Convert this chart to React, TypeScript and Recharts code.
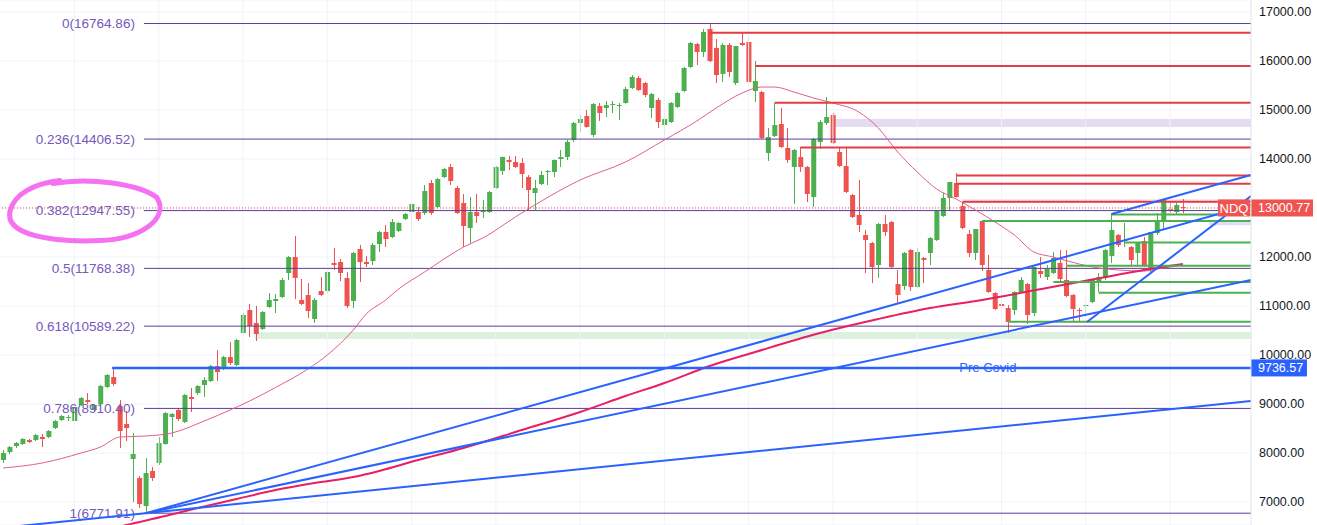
import {
  ComposedChart,
  Bar,
  Line,
  XAxis,
  YAxis,
  CartesianGrid,
  ReferenceLine,
  ReferenceArea,
  ReferenceDot,
} from "recharts";

const FONT = '"Liberation Sans", Arial, sans-serif';
const GREEN = "#4caf50";
const RED = "#ef5350";
const BLUE = "#2962ff";
const LINE_RED = "#e53b45";
const FIB_LINE = "#5c3d99";
const FIB_TEXT = "#7559bd";

// weekly NDQ candles, first one = week of 21 Oct 2019
const opens = [
  7857, 8020, 8143, 8184, 8265, 8265, 8327, 8327, 8510, 8674,
  8720, 8653, 8980, 9082, 8878, 9000, 9347, 9551, 8960, 8592,
  7878, 7490, 6918, 7633, 7796, 8184, 8735, 8878, 8633, 9143,
  9225, 9388, 9469, 9776, 9735, 9959, 9796, 10449, 10918, 10653,
  10531, 10980, 11102, 11184, 11674, 12000, 11123, 11225, 10735, 11306,
  11306, 11878, 11898, 11572, 11102, 12163, 11898, 11918, 12265, 12510,
  12408, 12531, 12776, 12918, 12918, 12898, 13510, 13020, 13633, 13837,
  13408, 13102, 12592, 12918, 12918, 12918, 13408, 13755, 13980, 13939,
  13918, 13633, 13306, 13490, 13735, 13735, 14000, 14041, 14388, 14735,
  14878, 14490, 15082, 15041, 15102, 15082, 15143, 15449, 15653, 15551,
  15041, 15204, 14694, 14755, 15061, 15388, 15878, 16347, 16184, 16653,
  16265, 15735, 16327, 15551, 16367, 16388, 15388, 15367, 14122, 14470,
  14714, 14225, 13837, 14041, 13837, 13225, 14347, 14735, 14898, 14143,
  13857, 13265, 12857, 12449, 12286, 11837, 12674, 12714, 11449, 11408,
  12143, 11388, 11980, 12082, 12347, 12837, 13204, 13510, 13041, 12469,
  12082, 12735, 11735, 11265, 11041, 10959, 10918, 11286, 11449, 10857,
  11714, 11592, 11674, 11878, 11531, 11225, 10918, 11000, 11082, 11510,
  11572, 12020, 12449, 12327, 12204, 12082, 12327, 11735, 12490, 12755,
  12980, 12918, 13020,
];
const highs = [
  8061, 8143, 8225, 8306, 8286, 8388, 8388, 8469, 8674, 8776,
  8776, 8960, 9143, 9225, 9000, 9388, 9612, 9736.57, 9082, 8857,
  8408, 7531, 7898, 7714, 8327, 8837, 8816, 8918, 9204, 9327,
  9388, 9551, 9796, 10102, 9980, 10265, 10327, 10857, 11041, 11000,
  10898, 11265, 11245, 11572, 12020, 12429, 11551, 11469, 11163, 11592,
  11714, 12184, 11959, 11694, 12102, 12245, 12020, 12286, 12531, 12653,
  12776, 12714, 12898, 13102, 13020, 13469, 13572, 13612, 13816, 13898,
  13449, 13286, 13225, 13286, 13163, 13347, 13857, 14050, 14061, 14061,
  14020, 13674, 13572, 13755, 13776, 13990, 14184, 14388, 14755, 14898,
  15000, 15143, 15143, 15184, 15184, 15143, 15469, 15714, 15694, 15571,
  15347, 15245, 15000, 15163, 15367, 15878, 16388, 16367, 16653, 16764.86,
  16449, 16367, 16367, 16306, 16592, 16490, 16000, 15388, 14633, 15143,
  15041, 14633, 14204, 14245, 13857, 14429, 14796, 15265, 14939, 14245,
  14245, 13286, 13572, 12551, 12306, 12694, 12857, 12735, 11735, 12102,
  12163, 12184, 12000, 12408, 12959, 13306, 13531, 13714, 13122, 12551,
  12571, 12755, 12041, 11286, 11531, 11020, 11306, 11592, 11469, 11796,
  12000, 11837, 12102, 12143, 12143, 11245, 10959, 11061, 11531, 11674,
  12163, 12898, 12469, 12694, 12225, 12306, 12408, 12510, 12898, 13184,
  13122, 13102, 13184,
];
const lows = [
  7796, 7980, 8102, 8163, 8204, 8245, 8122, 8306, 8490, 8653,
  8653, 8633, 8960, 9000, 8837, 8980, 9327, 9367, 8102, 8245,
  7000, 6878, 6771.91, 7429, 7755, 8170, 8327, 8653, 8612, 8837,
  9184, 9143, 9449, 9469, 9694, 9796, 9776, 10429, 10368, 10286,
  10510, 10959, 10857, 11163, 11531, 11143, 11020, 10755, 10653, 11204,
  11245, 11735, 11510, 10959, 10959, 11490, 11796, 11837, 12102, 12204,
  12388, 12510, 12755, 12531, 12735, 12857, 12857, 13000, 13612, 13469,
  12878, 12204, 12286, 12694, 12796, 12898, 13388, 13674, 13776, 13816,
  13408, 12959, 12959, 13469, 13469, 13633, 13837, 13980, 14347, 14551,
  14640, 14449, 14776, 14857, 14939, 14796, 15130, 15429, 15388, 15265,
  14837, 14633, 14429, 14735, 15041, 15367, 15857, 15918, 16082, 15980,
  15551, 15571, 15674, 15510, 16306, 15551, 15163, 14408, 13959, 14449,
  14225, 13918, 13082, 13735, 13122, 13020, 14204, 14694, 14306, 13837,
  13306, 12796, 12510, 11674, 11469, 11572, 12429, 11776, 11061, 11327,
  11306, 11367, 11469, 11837, 12327, 12816, 12939, 13210, 12570, 12000,
  11939, 11714, 11270, 10918, 10857, 10449, 10817, 11265, 10633, 10796,
  11572, 11531, 11653, 11469, 11184, 10674, 10674, 10776, 11061, 11286,
  11531, 11878, 12204, 12204, 11837, 11837, 11796, 11694, 12449, 12551,
  12898, 12857, 12898,
];
const closes = [
  8000, 8122, 8204, 8286, 8225, 8367, 8286, 8449, 8653, 8755,
  8735, 8939, 9123, 9041, 8980, 9367, 9592, 9408, 8449, 8510,
  7980, 6959, 7592, 7490, 8204, 8816, 8796, 8694, 9184, 9102,
  9367, 9490, 9776, 9653, 9959, 9837, 10306, 10817, 10592, 10429,
  10878, 11123, 11143, 11531, 12000, 11572, 11041, 10898, 11123, 11225,
  11694, 11837, 11674, 11000, 12082, 11898, 11857, 12245, 12510, 12367,
  12714, 12694, 12878, 13082, 12776, 13347, 12898, 13592, 13796, 13551,
  12898, 12633, 12918, 12837, 12939, 13327, 13837, 14041, 13939, 13837,
  13694, 13367, 13408, 13674, 13755, 13980, 14041, 14347, 14735, 14816,
  14653, 15122, 14939, 15102, 15122, 15102, 15429, 15674, 15408, 15306,
  15327, 14755, 14816, 15143, 15347, 15857, 16367, 16184, 16592, 16000,
  15714, 16327, 15776, 16306, 16327, 15571, 15592, 14429, 14449, 14694,
  14245, 13980, 14184, 13837, 13286, 14408, 14755, 14857, 14327, 13857,
  13327, 12816, 12653, 12347, 11796, 12674, 12510, 11796, 11225, 12082,
  11388, 12102, 11939, 12388, 12939, 13204, 13531, 13225, 12592, 12082,
  12571, 11837, 11286, 10939, 11000, 10674, 11286, 11531, 10817, 11796,
  11653, 11755, 11980, 11551, 11204, 10939, 10898, 11020, 11531, 11592,
  12143, 12551, 12245, 12347, 11939, 12286, 11837, 12510, 12735, 13184,
  12959, 13061, 13000.77,
];
// empty weeks to the right of the last candle
const FUTURE_WEEKS = 10;

// thin pink moving average, read at some weeks
const maFastWeeks = [
  0, 6, 12, 15, 18, 22, 26, 31, 35, 38, 42, 47, 50, 54, 56, 59, 61, 65, 68, 71,
  74, 79, 82, 89, 96, 102, 107, 110, 114, 117, 119, 122, 125, 128, 132, 135, 138, 141, 144, 147,
  150, 153, 156, 159, 162, 166, 169, 172, 176, 179, 182,
];
const maFastValues = [
  7694, 7796, 8000, 8122, 8327, 8347, 8408, 8653, 8878, 9061, 9337, 9714, 10000, 10510, 10837, 11123, 11347, 11694, 11959, 12204,
  12388, 12816, 13061, 13572, 13939, 14388, 14776, 15041, 15347, 15469, 15469, 15367, 15245, 15143, 14959, 14633, 14143, 13735, 13388, 13184,
  12959, 12714, 12449, 12102, 12000, 11857, 11776, 11735, 11714, 11776, 11837,
];
// thick crimson moving average
const maSlowWeeks = [15, 19, 25, 30, 36, 42, 48, 54, 58, 64, 71, 80, 89, 96, 102, 109, 116, 126, 135, 143, 151, 161, 166, 176, 182];
const maSlowValues = [6400, 6531, 6714, 6878, 7061, 7245, 7388, 7510, 7633, 7857, 8102, 8469, 8837, 9163, 9429, 9776, 10061, 10449, 10735, 10959, 11123, 11367, 11490, 11735, 11857];

const yTicks = [7000, 8000, 9000, 10000, 11000, 12000, 13000, 14000, 15000, 16000, 17000];
const gridWeeks = [11, 24, 37, 50, 63, 76, 89, 102, 115, 128, 141, 154, 167, 180];

const FIB_START = 21.7;
const fibRatios = ["0", "0.236", "0.382", "0.5", "0.618", "0.786", "1"];
const fibPrices = [16764.86, 14406.52, 12947.55, 11768.38, 10589.22, 8910.4, 6771.91];

const redLevels = [16575, 15900, 15150, 14235, 13665, 13495, 13128];
const redStarts = [109, 116, 119, 123, 147, 147, 148];
const greenLevels = [12735, 12868, 12296, 11822, 11490, 11272, 10680];
const greenStarts = [151, 171, 173, 164, 162, 169, 155];

// blue trend lines: [week1, price1, week2, price2]
const trendLines = [
  [22, 6771.91, 192.5, 13060],
  [22, 6771.91, 192.5, 11531],
  [-0.5, 6470, 192.5, 9060],
  [171, 12878, 192.5, 13674],
  [167.2, 10674, 192.5, 13245],
];

const PRE_COVID = 9736.57;
const LAST_PRICE = 13000.77;

const data = Array.from({ length: opens.length + FUTURE_WEEKS }, (_, i) => ({
  i,
  open: opens[i],
  high: highs[i],
  low: lows[i],
  close: closes[i],
}));
const maFast = maFastWeeks.map((w, k) => ({ i: w, v: maFastValues[k] }));
const maSlow = maSlowWeeks.map((w, k) => ({ i: w, v: maSlowValues[k] }));
const RIGHT = data.length - 0.5;

const Candle = (props: any) => {
  const { x, y, width, height, payload } = props;
  if (!payload || payload.high == null) return null;
  const { open, close, high, low } = payload;
  const top = Math.min(y, y + height);
  const h = Math.abs(height);
  const k = h / (high - low);
  const yOf = (v: number) => top + (high - v) * k;
  const color = close >= open ? GREEN : RED;
  const bTop = yOf(Math.max(open, close));
  const bBot = yOf(Math.min(open, close));
  const cx = Math.floor(x + width / 2) + 0.5;
  return (
    <g>
      <line x1={cx} x2={cx} y1={top} y2={top + h} stroke={color} strokeWidth={1} />
      <rect x={x} y={bTop} width={width} height={Math.max(1, bBot - bTop)} fill={color} />
    </g>
  );
};

// the last price tag sits on top of the nearest axis label
const PriceTick = (props: any) => {
  const { x, y, payload } = props;
  if (Math.abs(payload.value - LAST_PRICE) < 200) return <g />;
  return (
    <text x={x} y={y} dominantBaseline="central" fill="#131722" fontSize={12.5} fontFamily={FONT}>
      {payload.value.toFixed(2)}
    </text>
  );
};

const FibLabel = (props: any) => {
  const { viewBox, text } = props;
  return (
    <text
      x={viewBox.x - 9}
      y={viewBox.y}
      textAnchor="end"
      dominantBaseline="central"
      fill={FIB_TEXT}
      fontSize={13.5}
      fontFamily={FONT}
    >
      {text}
    </text>
  );
};

const AxisTag = (props: any) => {
  const { viewBox, text, color, w } = props;
  const right = viewBox.x + viewBox.width;
  return (
    <g>
      <rect x={right} y={viewBox.y - 8.5} width={w} height={17} fill={color} />
      <text x={right + 7} y={viewBox.y + 0.5} dominantBaseline="central" fill="#fff" fontSize={12.5} fontFamily={FONT}>
        {text}
      </text>
    </g>
  );
};

const LastTag = (props: any) => {
  const { viewBox } = props;
  const right = viewBox.x + viewBox.width;
  return (
    <g>
      <rect x={right - 33} y={viewBox.y - 8.5} width={32} height={17} fill={RED} />
      <text x={right - 17} y={viewBox.y + 0.5} textAnchor="middle" dominantBaseline="central" fill="#fff" fontSize={13} fontFamily={FONT}>
        NDQ
      </text>
      <AxisTag viewBox={viewBox} text={LAST_PRICE.toFixed(2)} color={RED} w={62} />
    </g>
  );
};

const PreCovidText = (props: any) => (
  <text
    x={props.cx}
    y={props.cy}
    textAnchor="middle"
    dominantBaseline="central"
    fill={BLUE}
    fontSize={13}
    fontFamily={FONT}
  >
    Pre Covid
  </text>
);

// hand drawn circle around the 0.382 label
const Scribble = (props: any) => {
  const { cx, cy } = props;
  const d = `M ${cx - 32} ${cy - 27} C ${cx + 5} ${cy - 34} ${cx + 55} ${cy - 26} ${cx + 72} ${cy - 13}
    C ${cx + 85} ${cy + 8} ${cx + 55} ${cy + 29} ${cx + 15} ${cy + 30}
    C ${cx - 35} ${cy + 32} ${cx - 80} ${cy + 24} ${cx - 75} ${cy + 1}
    C ${cx - 71} ${cy - 17} ${cx - 50} ${cy - 27} ${cx - 25} ${cy - 30}`;
  return <path d={d} fill="none" stroke="#f472f2" strokeWidth={5} strokeLinecap="round" />;
};

export default function App() {
  return (
    <div style={{ position: "absolute", left: 0, top: 0, background: "#fff" }}>
      <ComposedChart width={1317} height={525} data={data} margin={{ top: 0, right: 0, bottom: 0, left: 0 }}>
        <CartesianGrid vertical={false} stroke="#f0f3fa" />
        <XAxis dataKey="i" type="category" hide />
        <XAxis xAxisId="num" dataKey="i" type="number" domain={[-0.5, RIGHT]} allowDataOverflow hide />
        <YAxis
          orientation="right"
          width={66}
          domain={[6531, 17245]}
          allowDataOverflow
          ticks={yTicks}
          interval={0}
          tick={<PriceTick />}
          tickLine={false}
          axisLine={{ stroke: "#e0e3eb" }}
        />
        {gridWeeks.map((w) => (
          <ReferenceLine key={"g" + w} xAxisId="num" x={w} stroke="#f0f3fa" ifOverflow="visible" />
        ))}

        <ReferenceArea xAxisId="num" x1={128} x2={RIGHT} y1={14653} y2={14816} fill="#d1c4e9" fillOpacity={0.6} stroke="none" ifOverflow="visible" />
        <ReferenceArea xAxisId="num" x1={148} x2={RIGHT} y1={13102} y2={13184} fill="#f3e0ec" fillOpacity={0.8} stroke="none" ifOverflow="visible" />
        <ReferenceArea xAxisId="num" x1={186} x2={RIGHT} y1={12650} y2={12715} fill="#d1c4e9" fillOpacity={0.6} stroke="none" ifOverflow="visible" />
        <ReferenceArea xAxisId="num" x1={38.8} x2={RIGHT} y1={10327} y2={10469} fill="#c8e6c9" fillOpacity={0.6} stroke="none" ifOverflow="visible" />

        {fibPrices.map((p, k) => (
          <ReferenceLine
            key={"f" + k}
            xAxisId="num"
            segment={[{ x: FIB_START, y: p }, { x: RIGHT, y: p }]}
            stroke={FIB_LINE}
            strokeWidth={1}
            ifOverflow="visible"
            label={<FibLabel text={`${fibRatios[k]}(${p.toFixed(2)})`} />}
          />
        ))}

        <Bar dataKey={(d: any) => (d.high == null ? null : [d.low, d.high])} barSize={5} shape={<Candle />} isAnimationActive={false} />

        <Line xAxisId="num" data={maFast} dataKey="v" type="monotone" stroke="#e35d8f" strokeWidth={1} dot={false} activeDot={false} isAnimationActive={false} />
        <Line xAxisId="num" data={maSlow} dataKey="v" type="monotone" stroke="#e91e63" strokeWidth={2} dot={false} activeDot={false} isAnimationActive={false} />

        {redLevels.map((p, k) => (
          <ReferenceLine key={"r" + k} xAxisId="num" segment={[{ x: redStarts[k], y: p }, { x: RIGHT, y: p }]} stroke={LINE_RED} strokeWidth={2} ifOverflow="visible" />
        ))}
        {greenLevels.map((p, k) => (
          <ReferenceLine key={"n" + k} xAxisId="num" segment={[{ x: greenStarts[k], y: p }, { x: RIGHT, y: p }]} stroke={GREEN} strokeWidth={2} ifOverflow="visible" />
        ))}
        {trendLines.map((t, k) => (
          <ReferenceLine
            key={"t" + k}
            xAxisId="num"
            segment={[{ x: t[0], y: t[1] }, { x: t[2], y: t[3] }]}
            stroke={BLUE}
            strokeWidth={2}
            ifOverflow="hidden"
          />
        ))}

        <ReferenceLine
          xAxisId="num"
          segment={[{ x: 16.8, y: PRE_COVID }, { x: RIGHT, y: PRE_COVID }]}
          stroke={BLUE}
          strokeWidth={2.5}
          ifOverflow="visible"
          label={<AxisTag text={PRE_COVID.toFixed(2)} color={BLUE} w={56} />}
        />
        <ReferenceDot xAxisId="num" x={151.9} y={PRE_COVID} shape={<PreCovidText />} ifOverflow="visible" />

        <ReferenceLine y={LAST_PRICE} stroke={RED} strokeDasharray="1 2" strokeWidth={1} ifOverflow="visible" label={<LastTag />} />

        <ReferenceDot xAxisId="num" x={12.6} y={12947.55} shape={<Scribble />} ifOverflow="visible" />
      </ComposedChart>
    </div>
  );
}
